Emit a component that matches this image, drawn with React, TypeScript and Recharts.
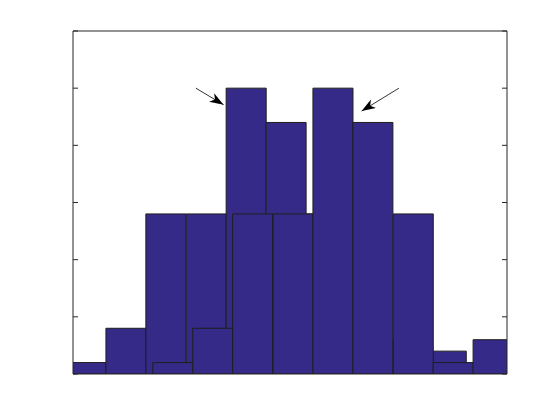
import { ComposedChart, XAxis, YAxis, ReferenceArea, ReferenceLine } from 'recharts';

// histogram of the same sample, drawn twice: second copy shifted by +2
const binCentersA = [0.30, 1.22, 2.14, 3.07, 3.99, 4.91, 5.84, 6.76, 7.68, 8.60];
const binCentersB = [2.30, 3.22, 4.14, 5.07, 5.99, 6.91, 7.84, 8.76, 9.68, 10.60];
const binCounts = [1, 4, 14, 14, 25, 22, 14, 1, 3, 2];
const binWidth = 0.9226;

const xTicks = [0, 1, 2, 3, 4, 5, 6, 7, 8, 9, 10];
const yTicks = [0, 5, 10, 15, 20, 25, 30];

const arrowLeft = [{ x: 2.83, y: 25.0 }, { x: 3.47, y: 23.55 }];
const arrowRight = [{ x: 7.51, y: 25.0 }, { x: 6.65, y: 23.0 }];

const BAR_FILL = '#352a87';
const EDGE = '#1f1f1f';
const AXIS = '#262626';

const bars = (centers: number[], tag: string) =>
  centers.map((c, i) => (
    <ReferenceArea
      key={tag + i}
      x1={c - binWidth / 2}
      x2={c + binWidth / 2}
      y1={0}
      y2={binCounts[i]}
      ifOverflow="hidden"
      fill={BAR_FILL}
      fillOpacity={1}
      stroke={EDGE}
      strokeWidth={1}
    />
  ));

export default function App() {
  // ticks point inward (matlab style box): negative tick size, 1px thin axes
  const axisProps = {
    type: 'number' as const,
    axisLine: { stroke: AXIS, strokeWidth: 1 },
    tickLine: { stroke: AXIS, strokeWidth: 1 },
    tickSize: -5,
    tickFormatter: () => '',
    allowDataOverflow: true,
  };
  return (
    <div style={{ width: 552, height: 412, background: '#fff' }}>
      <ComposedChart width={552} height={412} data={[]} margin={{ top: 22, right: 52, bottom: 45, left: 64 }}>
        <defs>
          <marker id="arrowhead" markerUnits="userSpaceOnUse" viewBox="0 0 14 10"
            refX={14} refY={5} markerWidth={14} markerHeight={10} orient="auto">
            <path d="M0,0 L14,5 L0,10 L4,5 Z" fill="#000" />
          </marker>
        </defs>
        {/* bottom ticks sit under the bars in the original */}
        <XAxis {...axisProps} tickLine={false} dataKey="x" domain={[0, 10]} ticks={xTicks} height={1} />
        <XAxis {...axisProps} xAxisId="top" orientation="top" domain={[0, 10]} ticks={xTicks} height={1} />
        <YAxis {...axisProps} domain={[0, 30]} ticks={yTicks} width={1} />
        <YAxis {...axisProps} yAxisId="right" orientation="right" domain={[0, 30]} ticks={yTicks} width={1} />
        {bars(binCentersA, 'a')}
        {bars(binCentersB, 'b')}
        <ReferenceLine segment={arrowLeft} stroke="#000" strokeWidth={0.8} markerEnd="url(#arrowhead)" />
        <ReferenceLine segment={arrowRight} stroke="#000" strokeWidth={0.8} markerEnd="url(#arrowhead)" />
      </ComposedChart>
    </div>
  );
}
